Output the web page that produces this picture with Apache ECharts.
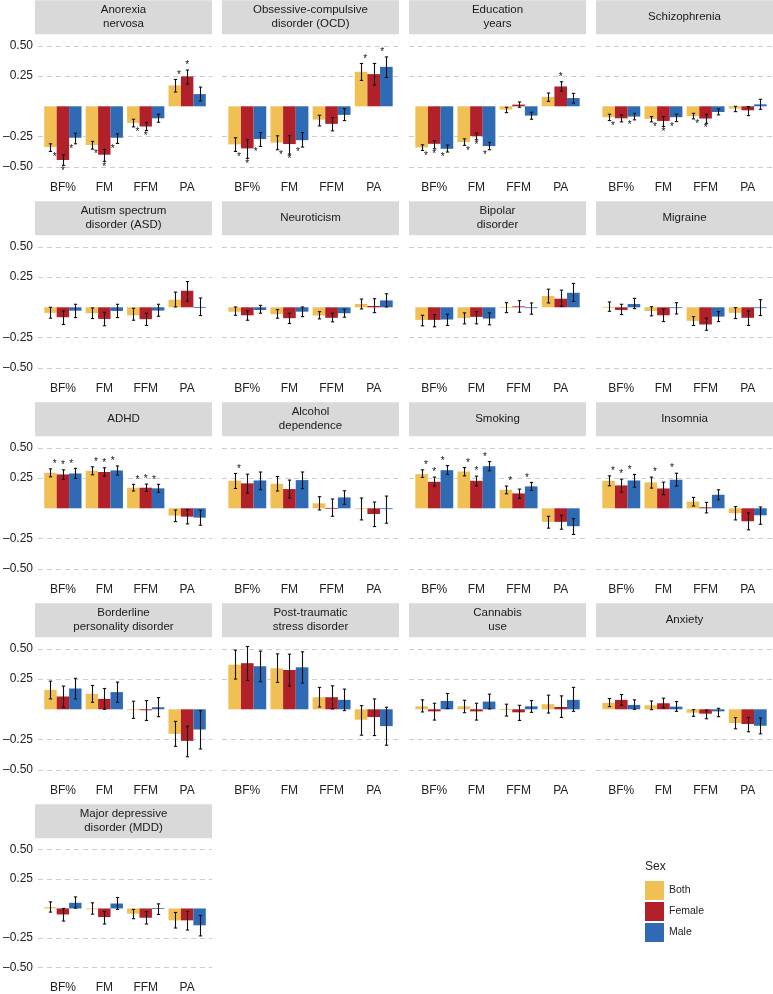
<!DOCTYPE html>
<html><head><meta charset="utf-8">
<script src="https://cdn.jsdelivr.net/npm/echarts@6/dist/echarts.min.js"></script>
<style>html,body{margin:0;padding:0;background:#fff}#c{width:773px;height:994px}</style>
</head><body><div id="c"></div>
<script>
const panels = ['Anorexia\nnervosa','Obsessive-compulsive\ndisorder (OCD)','Education\nyears','Schizophrenia',
  'Autism spectrum\ndisorder (ASD)','Neuroticism','Bipolar\ndisorder','Migraine',
  'ADHD','Alcohol\ndependence','Smoking','Insomnia',
  'Borderline\npersonality disorder','Post-traumatic\nstress disorder','Cannabis\nuse','Anxiety',
  'Major depressive\ndisorder (MDD)'];
const measures = ['BF%','FM','FFM','PA'];
const sexes = ['Both','Female','Male'];
const sexColors = ['#F0C055','#B2202A','#2F6BB4'];
const yTicks = [-0.5,-0.25,0.25,0.5];
const yTickLabels = ['–0.50','–0.25','0.25','0.50'];

// estimates per panel: [BF%, FM, FFM, PA]
const bothEst = [[-0.337,-0.32,-0.137,0.173],[-0.315,-0.30,-0.11,0.285],[-0.34,-0.296,-0.027,0.077],[-0.09,-0.104,-0.082,-0.019],
  [-0.046,-0.049,-0.066,0.063],[-0.036,-0.057,-0.068,0.027],[-0.104,-0.09,0.003,0.093],[0.003,-0.03,-0.112,-0.046],
  [0.293,0.31,0.17,-0.06],[0.228,0.203,0.041,-0.003],[0.282,0.304,0.153,-0.112],[0.227,0.214,0.055,-0.041],
  [0.161,0.128,0.0,-0.203],[0.369,0.339,0.1,-0.086],[0.025,0.025,0.003,0.042],[0.053,0.033,-0.028,-0.114],
  [0.011,-0.002,-0.045,-0.101]];
const bothLo = [[-0.373,-0.354,-0.17,0.118],[-0.373,-0.359,-0.162,0.214],[-0.365,-0.323,-0.052,0.041],[-0.118,-0.129,-0.104,-0.044],
  [-0.09,-0.093,-0.107,0.003],[-0.066,-0.09,-0.096,-0.014],[-0.153,-0.137,-0.044,0.036],[-0.033,-0.071,-0.15,-0.093],
  [0.26,0.277,0.143,-0.11],[0.164,0.143,-0.014,-0.096],[0.255,0.268,0.12,-0.164],[0.186,0.167,0.019,-0.096],
  [0.086,0.058,-0.075,-0.306],[0.25,0.222,0.019,-0.214],[-0.022,-0.028,-0.056,-0.031],[0.022,-0.003,-0.058,-0.161],
  [-0.031,-0.048,-0.087,-0.166]];
const bothHi = [[-0.31,-0.29,-0.107,0.222],[-0.26,-0.244,-0.074,0.354],[-0.318,-0.269,-0.008,0.11],[-0.066,-0.085,-0.058,0.0],
  [0.0,-0.005,-0.008,0.126],[0.003,-0.019,-0.036,0.068],[-0.066,-0.046,0.038,0.15],[0.044,0.005,-0.077,-0.003],
  [0.326,0.343,0.198,-0.014],[0.288,0.263,0.096,0.085],[0.318,0.337,0.184,-0.066],[0.268,0.258,0.09,0.014],
  [0.233,0.197,0.067,-0.1],[0.489,0.458,0.181,0.031],[0.078,0.075,0.042,0.117],[0.089,0.069,-0.003,-0.069],
  [0.056,0.048,-0.008,-0.034]];
const bothSig = [[1,1,1,1],[1,1,0,1],[1,1,0,0],[1,1,1,0],[0,0,0,0],[0,0,0,0],[0,0,0,0],[0,0,0,0],
  [1,1,1,0],[1,0,0,0],[1,1,1,0],[1,1,0,0],[0,0,0,0],[0,0,0,0],[0,0,0,0],[0,0,0,0],[0,0,0,0]];

const femaleEst = [[-0.444,-0.40,-0.167,0.247],[-0.348,-0.312,-0.145,0.266],[-0.31,-0.247,0.014,0.164],[-0.099,-0.121,-0.101,-0.033],
  [-0.082,-0.096,-0.098,0.137],[-0.066,-0.09,-0.087,0.011],[-0.104,-0.079,0.008,0.071],[-0.022,-0.066,-0.142,-0.087],
  [0.28,0.30,0.17,-0.069],[0.206,0.159,0.003,-0.047],[0.219,0.227,0.123,-0.112],[0.189,0.164,0.008,-0.107],
  [0.106,0.086,-0.008,-0.261],[0.381,0.325,0.1,-0.064],[-0.017,-0.017,-0.025,0.019],[0.078,0.05,-0.036,-0.122],
  [-0.051,-0.073,-0.079,-0.101]];
const femaleLo = [[-0.488,-0.455,-0.20,0.184],[-0.43,-0.395,-0.203,0.175],[-0.351,-0.277,-0.008,0.126],[-0.129,-0.167,-0.14,-0.077],
  [-0.142,-0.153,-0.15,0.049],[-0.107,-0.134,-0.12,-0.044],[-0.161,-0.137,-0.041,0.008],[-0.06,-0.118,-0.19,-0.15],
  [0.239,0.266,0.14,-0.129],[0.126,0.085,-0.066,-0.151],[0.184,0.186,0.082,-0.173],[0.134,0.112,-0.038,-0.178],
  [0.017,0.0,-0.092,-0.392],[0.239,0.192,0.003,-0.217],[-0.089,-0.089,-0.092,-0.067],[0.033,0.011,-0.078,-0.186],
  [-0.107,-0.132,-0.132,-0.183]];
const femaleHi = [[-0.40,-0.356,-0.134,0.30],[-0.277,-0.244,-0.093,0.354],[-0.285,-0.222,0.036,0.203],[-0.071,-0.085,-0.066,-0.003],
  [-0.03,-0.041,-0.049,0.213],[-0.027,-0.049,-0.049,0.071],[-0.06,-0.036,0.055,0.142],[0.025,-0.014,-0.09,-0.03],
  [0.318,0.335,0.2,-0.011],[0.282,0.233,0.077,0.052],[0.258,0.266,0.159,-0.058],[0.241,0.216,0.049,-0.038],
  [0.192,0.172,0.072,-0.139],[0.519,0.456,0.194,0.086],[0.05,0.05,0.033,0.111],[0.122,0.092,-0.006,-0.067],
  [0.0,-0.025,-0.028,-0.025]];
const femaleSig = [[1,1,1,1],[1,1,0,0],[1,1,0,1],[0,1,1,0],[0,0,0,0],[0,0,0,0],[0,0,0,0],[0,0,0,0],
  [1,1,1,0],[0,0,0,0],[1,1,0,0],[1,0,0,0],[0,0,0,0],[0,0,0,0],[0,0,0,0],[0,0,0,0],[0,0,0,0]];

const maleEst = [[-0.26,-0.26,-0.099,0.101],[-0.271,-0.28,-0.071,0.326],[-0.351,-0.329,-0.077,0.068],[-0.085,-0.09,-0.047,0.016],
  [-0.028,-0.03,-0.027,0.003],[-0.022,-0.036,-0.049,0.057],[-0.101,-0.093,-0.005,0.12],[0.027,-0.003,-0.077,0.0],
  [0.288,0.313,0.165,-0.077],[0.23,0.233,0.09,-0.003],[0.315,0.348,0.181,-0.148],[0.23,0.236,0.112,-0.058],
  [0.172,0.142,0.017,-0.167],[0.356,0.347,0.078,-0.139],[0.069,0.064,0.025,0.078],[0.036,0.022,-0.017,-0.136],
  [0.048,0.042,0.003,-0.143]];
const maleLo = [[-0.31,-0.307,-0.132,0.044],[-0.332,-0.337,-0.118,0.238],[-0.378,-0.359,-0.107,0.027],[-0.112,-0.126,-0.071,-0.025],
  [-0.085,-0.085,-0.074,-0.068],[-0.049,-0.077,-0.082,0.003],[-0.15,-0.145,-0.057,0.049],[-0.011,-0.055,-0.118,-0.068],
  [0.247,0.275,0.132,-0.14],[0.153,0.162,0.033,-0.123],[0.28,0.31,0.148,-0.216],[0.175,0.184,0.071,-0.132],
  [0.086,0.058,-0.061,-0.328],[0.228,0.217,-0.011,-0.297],[0.006,0.003,-0.025,-0.017],[0.0,-0.017,-0.061,-0.203],
  [0.003,-0.008,-0.051,-0.233]];
const maleHi = [[-0.222,-0.228,-0.066,0.159],[-0.217,-0.217,-0.019,0.408],[-0.32,-0.299,-0.049,0.107],[-0.058,-0.066,-0.022,0.058],
  [0.025,0.025,0.025,0.077],[0.016,0.003,-0.016,0.112],[-0.057,-0.046,0.036,0.197],[0.074,0.038,-0.036,0.063],
  [0.33,0.35,0.198,-0.016],[0.3,0.3,0.145,0.101],[0.353,0.386,0.214,-0.085],[0.28,0.29,0.153,0.011],
  [0.256,0.225,0.097,-0.011],[0.481,0.475,0.167,0.017],[0.131,0.125,0.072,0.181],[0.078,0.064,0.008,-0.072],
  [0.098,0.093,0.039,-0.059]];
const maleSig = [[1,1,0,0],[1,1,0,1],[1,1,0,0],[1,1,0,0],[0,0,0,0],[0,0,0,0],[0,0,0,0],[0,0,0,0],
  [1,1,1,0],[0,0,0,0],[1,1,1,0],[1,1,0,0],[0,0,0,0],[0,0,0,0],[0,0,0,0],[0,0,0,0],[0,0,0,0]];

const sexData = [
  {est: bothEst, lo: bothLo, hi: bothHi, sig: bothSig},
  {est: femaleEst, lo: femaleLo, hi: femaleHi, sig: femaleSig},
  {est: maleEst, lo: maleLo, hi: maleHi, sig: maleSig}
];

// layout
const FONT = "'Liberation Sans', Arial, Helvetica, sans-serif";
const PX_PER_UNIT = 121;
const Y_MIN = -0.59, Y_MAX = 0.59;
const COL_LEFT = 35, COL_PITCH = 187, PANEL_W = 177;
const ZERO0 = 106.3, ROW_PITCH = 201;

function makeRender(s) {
  return function (params, api) {
    const ci = api.value(0), v = api.value(1), lo = api.value(2), hi = api.value(3), sig = api.value(4);
    const xc = ci + (s - 1) * 0.3;
    const p0 = api.coord([xc - 0.15, 0]);
    const p1 = api.coord([xc + 0.15, v]);
    const color = api.visual('color');
    const ch = [];
    ch.push({type: 'rect', shape: {x: p0[0], y: Math.min(p0[1], p1[1]), width: p1[0] - p0[0], height: Math.max(Math.abs(p1[1] - p0[1]), 0.8)}, style: {fill: color}});
    const a = api.coord([xc, lo]), b = api.coord([xc, hi]);
    const cw = api.size([0.04, 0])[0];
    const ex = Math.round(a[0]) + 0.5;
    ch.push({type: 'line', shape: {x1: ex, y1: a[1], x2: ex, y2: b[1]}, style: {stroke: '#111', lineWidth: 1.1}});
    ch.push({type: 'line', shape: {x1: ex - cw, y1: a[1], x2: ex + cw, y2: a[1]}, style: {stroke: '#111', lineWidth: 1.1}});
    ch.push({type: 'line', shape: {x1: ex - cw, y1: b[1], x2: ex + cw, y2: b[1]}, style: {stroke: '#111', lineWidth: 1.1}});
    if (sig) {
      const sp = api.coord([ci + (s - 1) * 0.2, v >= 0 ? hi : lo]);
      ch.push({type: 'text', x: sp[0], y: v >= 0 ? sp[1] - 4.5 : sp[1] + 5.5,
        style: {text: '*', fontSize: 10, fontFamily: FONT, align: 'center', verticalAlign: 'middle', fill: '#111'}});
    }
    return {type: 'group', children: ch};
  };
}

const grids = [], xAxes = [], yAxes = [], series = [], graphics = [];
panels.forEach((name, p) => {
  const r = Math.floor(p / 4), c = p % 4;
  const zero = ZERO0 + ROW_PITCH * r;
  const left = COL_LEFT + COL_PITCH * c;
  grids.push({left: left, width: PANEL_W, top: zero - Y_MAX * PX_PER_UNIT, height: (Y_MAX - Y_MIN) * PX_PER_UNIT});
  xAxes.push({gridIndex: p, type: 'value', min: -0.6, max: 3.6,
    axisLine: {show: false}, axisTick: {show: false}, splitLine: {show: false},
    axisLabel: {customValues: [0, 1, 2, 3], formatter: v => measures[Math.round(v)], fontSize: 12, fontFamily: FONT, color: '#222', margin: 4}});
  yAxes.push({gridIndex: p, type: 'value', min: Y_MIN, max: Y_MAX,
    axisLine: {show: false}, axisTick: {show: false, customValues: yTicks},
    axisLabel: {show: c === 0, customValues: yTicks, formatter: v => yTickLabels[yTicks.indexOf(v)] || '', fontSize: 12, fontFamily: FONT, color: '#222', margin: 5},
    splitLine: {show: true, lineStyle: {color: '#cccccc', type: [5, 4], width: 1}}});
  sexes.forEach((sx, s) => {
    const d = sexData[s];
    series.push({type: 'custom', name: sx, xAxisIndex: p, yAxisIndex: p, silent: true,
      itemStyle: {color: sexColors[s]}, renderItem: makeRender(s), encode: {x: 0, y: 1},
      data: measures.map((m, k) => [k, d.est[p][k], d.lo[p][k], d.hi[p][k], d.sig[p][k]])});
  });
  graphics.push({type: 'rect', left: left, top: zero - 106, shape: {width: PANEL_W, height: 34}, style: {fill: '#d9d9d9'}, silent: true});
  graphics.push({type: 'text', x: left + PANEL_W / 2, y: zero - 89, silent: true,
    style: {text: name, fontSize: 11.5, fontFamily: FONT, fill: '#1a1a1a', align: 'center', verticalAlign: 'middle', lineHeight: 14}});
});

const chart = echarts.init(document.getElementById('c'), null, {renderer: 'canvas'});
chart.setOption({
  animation: false,
  backgroundColor: '#fff',
  title: {text: 'Sex', left: 645, top: 861, padding: 0, textStyle: {fontSize: 12, fontWeight: 'normal', fontFamily: FONT, color: '#222'}},
  legend: {data: sexes, orient: 'vertical', left: 645, top: 881, padding: 0, itemWidth: 19, itemHeight: 19, itemGap: 2, icon: 'rect', selectedMode: false,
    textStyle: {fontSize: 10.5, fontFamily: FONT, color: '#222'}},
  grid: grids, xAxis: xAxes, yAxis: yAxes, series: series, graphic: graphics
});
</script></body></html>
